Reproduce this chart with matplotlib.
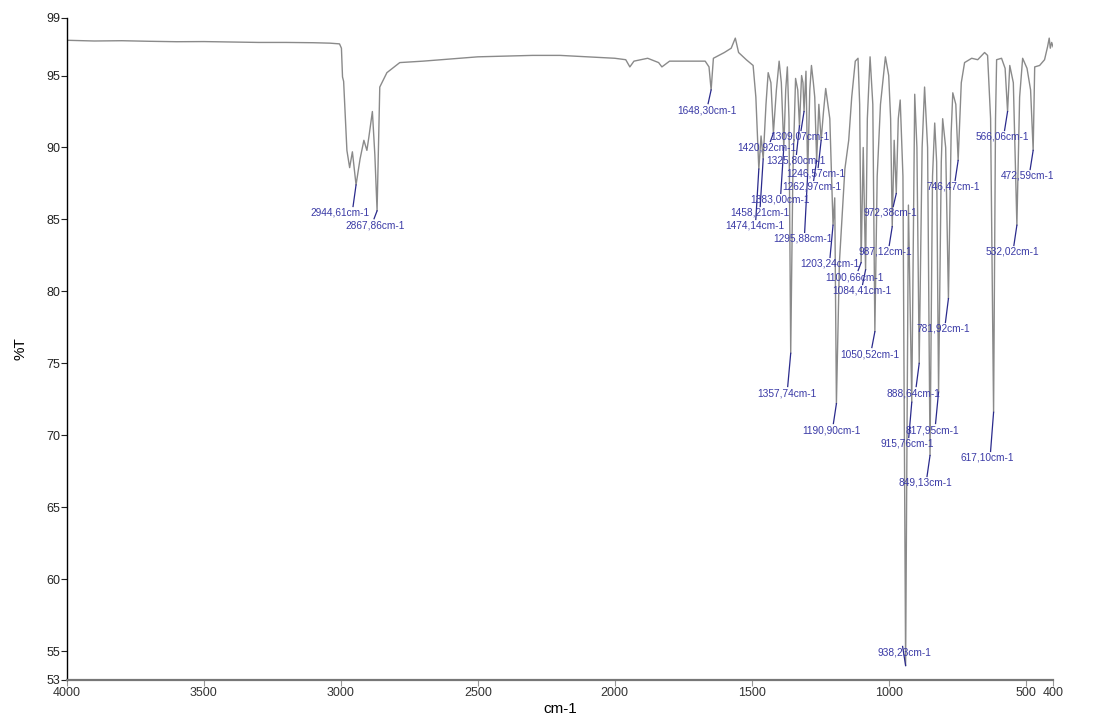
import numpy as np
import matplotlib.pyplot as plt

plt.rcParams['font.family'] = ['Liberation Sans', 'DejaVu Sans']

# espectro IR: puntos de la curva (sin los picos marcados)
wn_curva = [4000, 3900, 3800, 3700, 3600, 3500, 3400, 3300, 3200, 3100, 3040, 3005,
            2998, 2994, 2990, 2985, 2978, 2968, 2958, 2930, 2916, 2905, 2898, 2885,
            2876, 2858, 2832, 2785, 2700, 2600, 2500, 2400, 2300, 2200, 2100, 2000,
            1960, 1945, 1930, 1880, 1840, 1828, 1800, 1750, 1670, 1656, 1640, 1600,
            1575, 1560, 1548, 1520, 1495, 1485, 1466, 1448, 1440, 1430, 1410, 1400,
            1392, 1376, 1370, 1364, 1350, 1340, 1332, 1318, 1313, 1302, 1288, 1282,
            1275, 1270, 1255, 1238, 1230, 1215, 1197, 1180, 1160, 1146, 1135, 1122,
            1112, 1106, 1093, 1078, 1068, 1058, 1042, 1030, 1012, 1000, 993, 980,
            965, 958, 948, 928, 905, 897, 878, 869, 858, 840, 832, 825, 808, 803,
            792, 772, 766, 755, 735, 723, 697, 675, 650, 639, 628, 610, 606, 588,
            575, 558, 545, 522, 511, 495, 482, 467, 449, 431, 420, 414, 410, 405, 400]
T_curva = [97.45, 97.4, 97.42, 97.38, 97.35, 97.36, 97.33, 97.3, 97.3, 97.28, 97.25, 97.2,
           96.9, 94.9, 94.6, 92.6, 89.8, 88.6, 89.7, 89.2, 90.5, 89.8, 90.7, 92.5,
           89.5, 94.2, 95.2, 95.9, 96.0, 96.15, 96.3, 96.35, 96.4, 96.4, 96.3, 96.2,
           96.1, 95.6, 96.0, 96.2, 95.9, 95.6, 96.0, 96.0, 96.0, 95.6, 96.2, 96.6,
           96.9, 97.6, 96.6, 96.1, 95.7, 93.5, 90.8, 93.0, 95.2, 94.5, 94.0, 96.0,
           94.5, 94.0, 95.6, 92.0, 88.0, 94.8, 94.0, 95.0, 94.5, 95.3, 94.0, 95.7,
           94.5, 93.5, 93.0, 92.5, 94.1, 92.0, 86.5, 82.0, 88.5, 90.5, 93.5, 96.0,
           96.2, 93.0, 90.0, 92.0, 96.3, 93.0, 88.0, 93.0, 96.3, 95.0, 92.0, 90.5,
           92.0, 93.3, 88.0, 86.0, 93.7, 90.0, 90.0, 94.2, 90.0, 88.0, 91.7, 89.0, 89.0, 92.0,
           90.0, 91.0, 93.8, 93.0, 94.5, 95.9, 96.2, 96.1, 96.6, 96.4, 92.0, 92.0, 96.1, 96.2,
           95.5, 95.7, 94.5, 93.5, 96.2, 95.5, 94.0, 95.6, 95.7, 96.1, 97.0, 97.6, 96.9, 97.3, 97.0]

# picos marcados (cm-1) y su transmitancia
pico_wn = [2944.61, 2867.86, 1648.30, 1474.14, 1458.21, 1420.92, 1383.00, 1357.74,
           1325.80, 1309.07, 1295.88, 1262.97, 1246.57, 1203.24, 1190.90, 1100.66,
           1084.41, 1050.52, 987.12, 972.38, 938.23, 915.76, 888.64, 849.13,
           817.95, 781.92, 746.47, 617.10, 566.06, 532.02, 472.59]
pico_T = [87.4, 85.6, 94.0, 88.5, 89.2, 91.0, 90.0, 75.7,
          91.5, 92.5, 88.1, 89.1, 90.5, 84.6, 72.2, 82.0,
          81.5, 77.2, 84.5, 86.8, 54.0, 72.3, 75.0, 68.6,
          73.0, 79.5, 89.1, 71.6, 92.5, 84.6, 89.8]

# posicion de cada etiqueta (cm-1, %T)
etiq_wn = [3004, 2876, 1664, 1489, 1471, 1445, 1398, 1372,
           1339, 1325, 1314, 1281, 1266, 1215, 1208, 1124,
           1099, 1069, 1011, 993, 942, 934, 909, 865,
           840, 799, 763, 639, 584, 548, 493]
etiq_T = [85.45, 84.6, 92.6, 84.55, 85.45, 89.97, 86.36, 72.94,
          89.07, 90.73, 83.65, 87.26, 88.16, 81.91, 70.37, 81.0,
          80.03, 75.65, 82.74, 85.45, 54.88, 69.4, 72.94, 66.69,
          70.37, 77.39, 87.26, 68.43, 90.73, 82.74, 88.02]

# unimos curva y picos, ordenados de mayor a menor numero de onda
wn = np.concatenate([wn_curva, pico_wn])
T = np.concatenate([T_curva, pico_T])
orden = np.argsort(wn)[::-1]
wn = wn[orden]
T = T[orden]

fig = plt.figure(figsize=(11.18, 7.16), dpi=100)
ax = fig.add_axes([0.0599, 0.0503, 0.882, 0.9246])

ax.plot(wn, T, color='#8a8a8a', lw=1.0)

# etiquetas de los picos con su linea guia
azul = '#2a2a8c'
for p, t, ex, et in zip(pico_wn, pico_T, etiq_wn, etiq_T):
    ax.plot([p + 11, p], [et + 0.45, t], color=azul, lw=0.9)
    texto = ('%.2f' % p).replace('.', ',') + 'cm-1'
    ax.text(ex, et, texto, ha='center', va='center', fontsize=7.3, color='#3a3aa6')

ax.set_xlim(4000, 400)
ax.set_ylim(53, 99)
ax.set_xticks([4000, 3500, 3000, 2500, 2000, 1500, 1000, 500, 400])
ax.set_yticks([53, 55, 60, 65, 70, 75, 80, 85, 90, 95, 99])
ax.tick_params(direction='out', length=4, width=0.8, labelsize=9, colors='#222222', pad=1)
ax.tick_params(axis='x', colors='#999999', labelcolor='#333333')

for s in ['top', 'right']:
    ax.spines[s].set_visible(False)
ax.spines['left'].set_color('black')
ax.spines['left'].set_linewidth(1.0)
ax.spines['bottom'].set_color('#777777')
ax.spines['bottom'].set_linewidth(1.6)

ax.set_xlabel('cm-1', fontsize=11, labelpad=2)
ax.set_ylabel('%T', fontsize=11, labelpad=13)

plt.savefig('out.png', dpi=100)
